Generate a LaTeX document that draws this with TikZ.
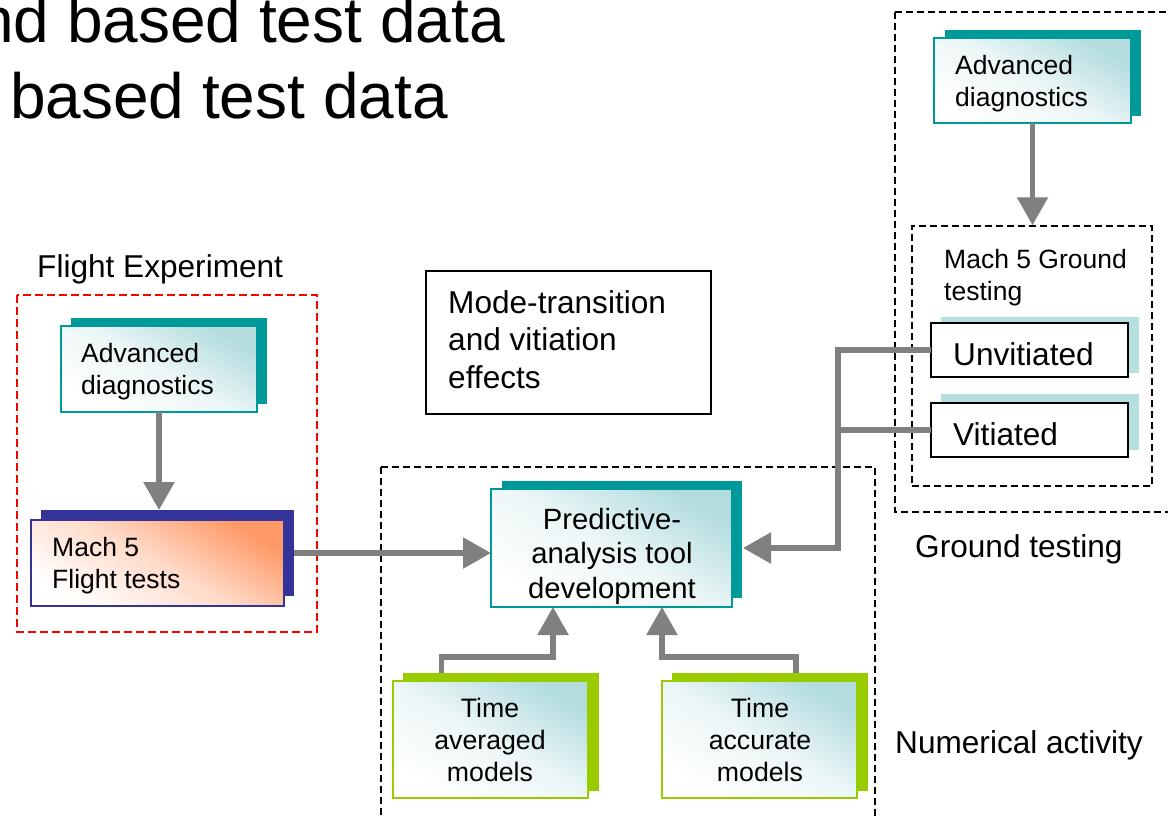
\documentclass[tikz,border=0pt]{standalone}
\usepackage{fontspec}
\setmainfont{Liberation Sans}
\usetikzlibrary{arrows.meta,calc}
\definecolor{tealD}{HTML}{009999}
\definecolor{tealL}{HTML}{B3DCDF}
\definecolor{navyC}{HTML}{333399}
\definecolor{orangeC}{HTML}{FF9966}
\definecolor{greenC}{HTML}{99CC00}
\definecolor{lshadow}{HTML}{B6DFE0}
\definecolor{arrgray}{HTML}{808080}
\begin{document}
\begin{tikzpicture}[x=1pt,y=-1pt,
  conn/.style={draw=arrgray,line width=5.5pt},
  arr/.style={conn,-{Triangle[length=28pt,width=30pt]}},
  shadowbox/.style={fill=#1,draw=none,inner sep=0pt,outer sep=0pt},
  tealbox/.style={draw=tealD,line width=1.5pt,inner sep=0pt,outer sep=0pt,
    top color=tealL,bottom color=white,middle color=white!75!tealL,shading angle=-30},
  orangebox/.style={draw=navyC,line width=1.5pt,inner sep=0pt,outer sep=0pt,
    top color=orangeC,bottom color=white,middle color=white!65!orangeC,shading angle=-30},
  greenbox/.style={draw=greenC,line width=2pt,inner sep=0pt,outer sep=0pt,
    top color=tealL,bottom color=white,middle color=white!75!tealL,shading angle=-30},
  plainbox/.style={draw=black,line width=1.8pt,fill=white,inner sep=0pt,outer sep=0pt},
  dashbox/.style={draw=black,line width=1.5pt,dash pattern=on 7pt off 4pt},
  reddash/.style={draw=red,line width=1.5pt,dash pattern=on 8pt off 4pt},
  boxtxt/.style={font=\fontsize{26.5}{32}\selectfont,inner sep=0pt,align=left},
  ctrtxt/.style={inner sep=0pt,align=center},
  lbl/.style={font=\fontsize{31.6}{36}\selectfont,inner sep=0pt},
]
\useasboundingbox (0,0) rectangle (1168,815);

% title
\node[font=\fontsize{64}{76}\selectfont,inner sep=0pt,anchor=base east] (t1) at (505,42) {nd based test data};
\node[font=\fontsize{64}{76}\selectfont,inner sep=0pt,anchor=base east] (t2) at (448,118) {based test data};

% group frames
\draw[reddash] (17,295) rectangle (317,632);
\draw[dashbox] (895,12) rectangle (1185,512);
\draw[dashbox] (381,467) rectangle (875,840);
\node[dashbox,minimum width=240pt,minimum height=260pt,inner sep=0pt] (gbox) at (1032,356) {};

\node[lbl,anchor=base west] (lfe) at (37,277) {Flight Experiment};
\node[lbl,anchor=base west] (lgt) at (915,557) {Ground testing};
\node[lbl,anchor=base west] (lna) at (895,753) {Numerical activity};

% shadows
\node[shadowbox=tealD,minimum width=196pt,minimum height=86pt] (adls) at (169,361) {};
\node[shadowbox=navyC,minimum width=253pt,minimum height=86pt] (mfs) at (167.5,553) {};
\node[shadowbox=tealD,minimum width=196pt,minimum height=86pt] (adrs) at (1043,73) {};
\node[shadowbox=tealD,minimum width=240pt,minimum height=117pt] (pas) at (622,539.5) {};
\node[shadowbox=greenC,minimum width=196pt,minimum height=118pt] (tas) at (501,732) {};
\node[shadowbox=greenC,minimum width=196pt,minimum height=118pt] (tcs) at (770,732) {};
\node[shadowbox=lshadow,minimum width=198pt,minimum height=56pt] (unvs) at (1040,345) {};
\node[shadowbox=lshadow,minimum width=198pt,minimum height=56pt] (vits) at (1040,422) {};

% main boxes
\node[tealbox,minimum width=196pt,minimum height=86pt] (adl) at (159,369) {};
\node[orangebox,minimum width=253pt,minimum height=86pt] (mf) at (157.5,563) {};
\node[tealbox,minimum width=197pt,minimum height=85pt] (adr) at (1032.5,80.5) {};
\node[tealbox,minimum width=241pt,minimum height=118pt] (pa) at (611.5,548) {};
\node[greenbox,minimum width=195pt,minimum height=117pt] (ta) at (490.5,739.5) {};
\node[greenbox,minimum width=195pt,minimum height=117pt] (tc) at (759.5,739.5) {};
\node[plainbox,minimum width=197pt,minimum height=54pt] (unv) at (1029.5,350) {};
\node[plainbox,minimum width=197pt,minimum height=54pt] (vit) at (1029.5,430) {};
\node[plainbox,line width=1.5pt,minimum width=285pt,minimum height=143pt] (mode) at (568.5,342.5) {};

% texts (base anchor = baseline of last line)
\node[boxtxt,anchor=base west] (adlt) at (81,394) {Advanced\\diagnostics};
\node[boxtxt,anchor=base west] (adrt) at (955,106) {Advanced\\diagnostics};
\node[boxtxt,anchor=base west] (mft) at (52,588) {Mach 5\\Flight tests};
\node[boxtxt,anchor=base west] (gtt) at (944,300) {Mach 5 Ground\\testing};
\node[lbl,anchor=base west] (unvt) at (953,365) {Unvitiated};
\node[lbl,anchor=base west] (vitt) at (953,445) {Vitiated};
\node[lbl,align=left,font=\fontsize{31.6}{37.5}\selectfont,anchor=base west] (modet) at (448,388) {Mode-transition\\and vitiation\\effects};
\node[ctrtxt,font=\fontsize{29.3}{34.5}\selectfont,anchor=base] (pat) at (612,598) {Predictive-\\analysis tool\\development};
\node[ctrtxt,font=\fontsize{26.7}{32}\selectfont,anchor=base] (tat) at (490,781) {Time\\averaged\\models};
\node[ctrtxt,font=\fontsize{26.7}{32}\selectfont,anchor=base] (tct) at (760,781) {Time\\accurate\\models};

% connectors
\draw[arr] (adl.south) -- (adl.south |- mfs.north);
\draw[arr] (adr.south) -- (adr.south |- gbox.north);
\draw[arr] (mfs.east) -- (mfs.east -| pa.west);
\draw[conn] (vit.west) -- ++(-93,0);
\draw[arr] (unv.west) -- ++(-93,0) |- ([xshift=11pt]pa.east);
\draw[arr] ([xshift=-59.5pt]tas.north) -- ++(0,-16) -| ([xshift=-58.5pt]pa.south);
\draw[arr] ([xshift=26pt]tcs.north) -- ++(0,-16) -| ([xshift=50.5pt]pa.south);
\end{tikzpicture}
\end{document}
